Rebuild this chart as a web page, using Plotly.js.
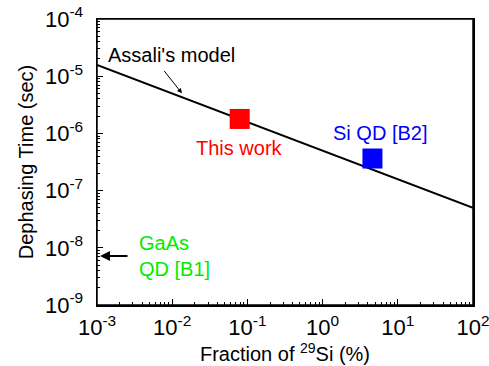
<!DOCTYPE html>
<html>
<head>
<meta charset="utf-8">
<script src="https://cdn.plot.ly/plotly-3.0.1.min.js"></script>
<style>html,body{margin:0;padding:0;background:#fff;}#chart{width:489px;height:366px;}</style>
</head>
<body>
<div id="chart"></div>
<script>
// Assali's model line (fraction of 29Si in %, dephasing time in s)
const modelX = [0.001, 100];
const modelY = [1.58e-5, 5.0e-8];
// This work
const thisWorkX = [0.079];
const thisWorkY = [1.79e-6];
// Si QD [B2]
const siQdX = [4.6];
const siQdY = [3.64e-7];
// GaAs QD [B1] (arrow marker value)
const gaasY = 7.2e-9;

const xTickVals = [1e-3, 1e-2, 1e-1, 1, 10, 100];
const xTickText = ['10<sup>-3</sup>','10<sup>-2</sup>','10<sup>-1</sup>','10<sup>0</sup>','10<sup>1</sup>','10<sup>2</sup>'];
const yTickVals = [1e-9, 1e-8, 1e-7, 1e-6, 1e-5, 1e-4];
const yTickText = ['10<sup>-9</sup>','10<sup>-8</sup>','10<sup>-7</sup>','10<sup>-6</sup>','10<sup>-5</sup>','10<sup>-4</sup>'];

// minor tick positions: 2..9 within each decade
function minorTicks(majors) {
  const out = [];
  for (let i = 0; i < majors.length - 1; i++) for (let k = 2; k <= 9; k++) out.push(majors[i] * k);
  return out;
}
const xMinor = minorTicks(xTickVals);
const yMinor = minorTicks(yTickVals);

const FONT = 'Liberation Sans, Arial, sans-serif';
const green = 'rgb(0,235,0)';

const traces = [
  {x: modelX, y: modelY, mode: 'lines', line: {color: 'black', width: 2}, hoverinfo: 'skip', showlegend: false, cliponaxis: false},
  {x: thisWorkX, y: thisWorkY, mode: 'markers', marker: {symbol: 'square', size: 20, color: 'rgb(255,0,0)'}, showlegend: false},
  {x: siQdX, y: siQdY, mode: 'markers', marker: {symbol: 'square', size: 20, color: 'rgb(0,0,255)'}, showlegend: false}
];

const lg = Math.log10;
const axisCommon = {
  type: 'log',
  tickmode: 'array',
  ticks: 'inside', ticklen: 6, tickwidth: 1.2, tickcolor: 'black',
  showline: true, linecolor: 'black', linewidth: 1.5, mirror: true,
  showgrid: false, zeroline: false,
  ticklabeloverflow: 'allow',
  automargin: false,
  tickfont: {size: 22, family: FONT, color: 'black'}
};
const layout = {
  width: 489, height: 366,
  margin: {l: 97, r: 16, t: 19, b: 61},
  paper_bgcolor: 'white', plot_bgcolor: 'white',
  font: {family: FONT, color: 'black'},
  showlegend: false,
  xaxis: Object.assign({}, axisCommon, {
    range: [-3, 2],
    tickvals: xTickVals, ticktext: xTickText,
    ticklabelstandoff: 2,
    minor: {tickmode: 'array', tickvals: xMinor, ticks: 'inside', ticklen: 3, tickwidth: 1, tickcolor: 'black', showgrid: false},
    title: {text: 'Fraction of <sup>29</sup>Si (%)', font: {size: 20, family: FONT}, standoff: 4}
  }),
  yaxis: Object.assign({}, axisCommon, {
    range: [-9, -4],
    tickvals: yTickVals, ticktext: yTickText,
    ticklabelstandoff: 8,
    minor: {tickmode: 'array', tickvals: yMinor, ticks: 'inside', ticklen: 3, tickwidth: 1, tickcolor: 'black', showgrid: false},
    title: {text: 'Dephasing Time (sec)', font: {size: 20, family: FONT}, standoff: 6}
  }),
  annotations: [
    {x: -2.016, y: -4.63, xref: 'x', yref: 'y', text: "Assali's model", showarrow: false,
     font: {size: 20, color: 'black', family: FONT}},
    {x: -1.87, y: -5.30, xref: 'x', yref: 'y', text: '', showarrow: true,
     ax: -19, ay: -24, axref: 'pixel', ayref: 'pixel', arrowhead: 2, arrowsize: 1, arrowwidth: 1, arrowcolor: 'black'},
    {x: lg(thisWorkX[0]), y: -6.25, xref: 'x', yref: 'y', text: 'This work', showarrow: false,
     font: {size: 20, color: 'rgb(255,0,0)', family: FONT}},
    {x: 0.763, y: -5.99, xref: 'x', yref: 'y', text: 'Si QD [B2]', showarrow: false,
     font: {size: 20, color: 'rgb(0,0,255)', family: FONT}},
    {x: -2.468, y: lg(gaasY), xref: 'x', yref: 'y', xanchor: 'left', text: 'GaAs<br>QD [B1]', align: 'left', showarrow: false,
     font: {size: 20, color: green, family: FONT}},
    {x: -2.96, y: lg(gaasY), xref: 'x', yref: 'y', text: '', showarrow: true,
     ax: 29, ay: 0, axref: 'pixel', ayref: 'pixel', arrowhead: 2, arrowsize: 1, arrowwidth: 2, arrowcolor: 'black'}
  ],
  shapes: [
    {type: 'rect', xref: 'paper', yref: 'paper', x0: 0, x1: 1, y0: 0, y1: 1, line: {color: 'black', width: 1.5}, fillcolor: 'rgba(0,0,0,0)', layer: 'above'}
  ]
};

Plotly.newPlot('chart', traces, layout, {staticPlot: true, displayModeBar: false});
</script>
</body>
</html>
